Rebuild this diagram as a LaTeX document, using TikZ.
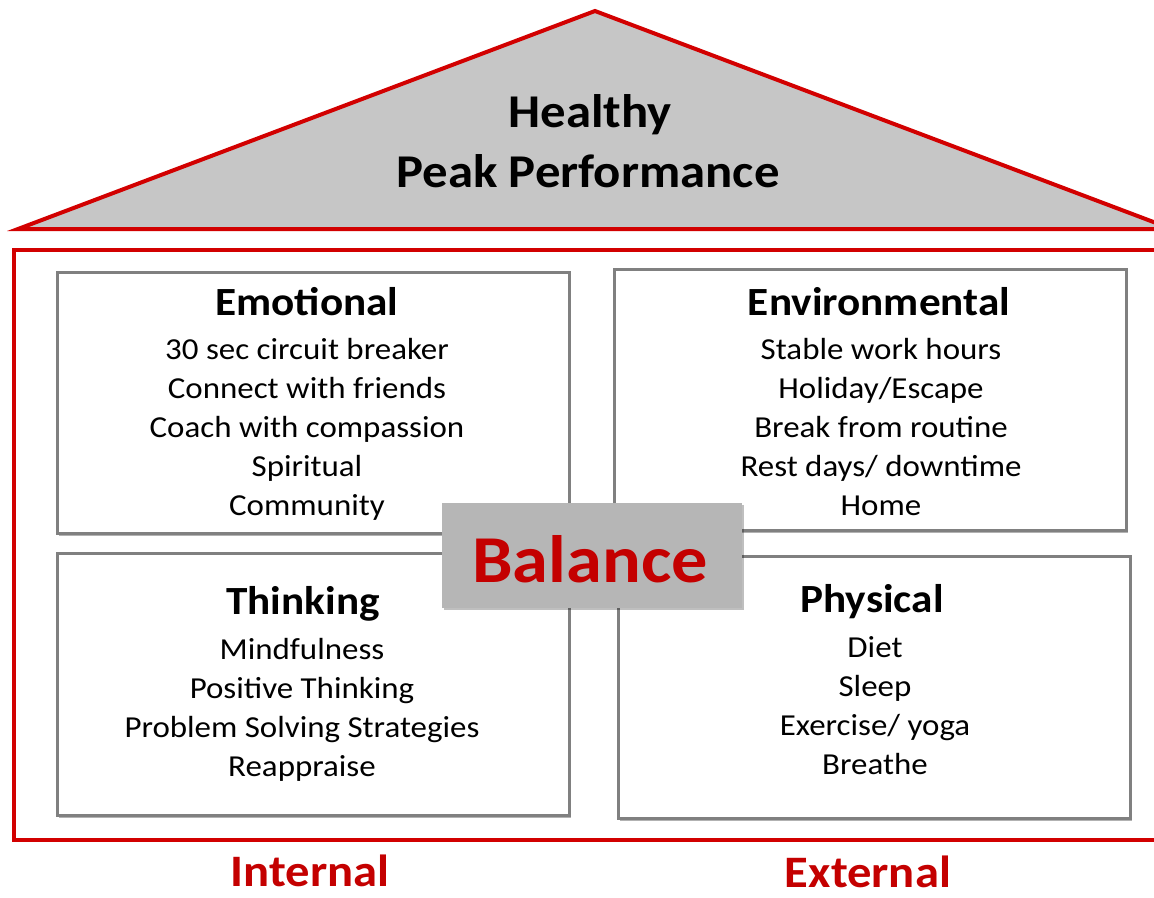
\documentclass[tikz,border=0pt]{standalone}
\usepackage{fontspec}
\setmainfont{Carlito}[FakeStretch=1.08]
\usetikzlibrary{shadows}
\definecolor{roofred}{RGB}{210,0,0}
\definecolor{labelred}{RGB}{196,0,0}
\definecolor{roofgray}{RGB}{198,198,198}
\definecolor{framegray}{RGB}{128,128,128}
\definecolor{balgray}{RGB}{182,182,182}
\tikzset{
  redline/.style={draw=roofred, line width=4pt},
  pillar/.style={draw=framegray, line width=3pt, fill=white, inner sep=0pt,
    drop shadow={shadow xshift=1.5pt, shadow yshift=-2.5pt, opacity=0.3, fill=black}},
  balbox/.style={fill=balgray, inner sep=0pt, minimum width=300pt, minimum height=105pt,
    drop shadow={shadow xshift=2pt, shadow yshift=-2pt, opacity=0.25, fill=black}},
  heading/.style={anchor=base, inner sep=0pt, font=\bfseries\fontsize{40}{48}\selectfont},
  item/.style={anchor=base, inner sep=0pt, font=\fontsize{30.5}{37}\selectfont},
  title/.style={anchor=base, inner sep=0pt, font=\bfseries\fontsize{47}{56}\selectfont},
  side/.style={anchor=base, inner sep=0pt, text depth=0pt, text=labelred, font=\bfseries\fontsize{45}{54}\selectfont},
  baltext/.style={anchor=base, inner sep=0pt, text=labelred, font=\bfseries\fontsize{67}{80}\selectfont},
}
\begin{document}
\begin{tikzpicture}[x=1pt,y=-1pt]
\useasboundingbox (0,0) rectangle (1154,897);
\fill[white] (0,0) rectangle (1154,897);

% roof and house frame, running past the right edge
\coordinate (apex) at (595,11);
\coordinate (eaveL) at (18,229);
\coordinate (eaveR) at (1172,229);
\coordinate (wallTR) at (1180,250);
\coordinate (wallTL) at (14,250);
\coordinate (wallBL) at (14,840);
\coordinate (wallBR) at (1180,840);
\begin{scope}
  \clip (0,0) rectangle (1154,897);
  \filldraw[fill=roofgray, redline, line join=miter] (apex) -- (eaveL) -- (eaveR) -- cycle;
  \draw[redline, line join=miter] (wallTR) -- (wallTL) -- (wallBL) -- (wallBR);
\end{scope}

\node[title] (t1) at (590,127) {Healthy};
\node[title] (t2) at (588,187) {Peak Performance};

% four pillars
\node[pillar, minimum width=512pt, minimum height=261pt] (emobox) at (313,402.5) {};
\node[pillar, minimum width=512pt, minimum height=261pt] (envbox) at (870,399.5) {};
\node[pillar, minimum width=512pt, minimum height=262pt] (thkbox) at (313,684) {};
\node[pillar, minimum width=512pt, minimum height=262pt] (phybox) at (874,687) {};

% Emotional
\node[heading] (emoh) at (307,315) {Emotional};
\foreach \t [count=\i] in {30 sec circuit breaker, Connect with friends, Coach with compassion, Spiritual, Community}
  \node[item] (emo\i) at (307,359+39*\i-39) {\t};

% Environmental
\node[heading] (envh) at (879,315) {Environmental};
\foreach \t [count=\i] in {Stable work hours, Holiday/Escape, Break from routine, Rest days/ downtime, Home}
  \node[item] (env\i) at (881,359+39*\i-39) {\t};

% Thinking
\node[heading] (thkh) at (303,614) {Thinking};
\foreach \t [count=\i] in {Mindfulness, Positive Thinking, Problem Solving Strategies, Reappraise}
  \node[item] (thk\i) at (302,659+39.3*\i-39.3) {\t};

% Physical
\node[heading] (phyh) at (872,612) {Physical};
\foreach \t [count=\i] in {Diet, Sleep, Exercise/ yoga, Breathe}
  \node[item] (phy\i) at (875,657+39*\i-39) {\t};

% centre keystone
\node[balbox] (bal) at (592,555.5) {};
\node[baltext] (balt) at (590,582) {Balance};

% bottom labels
\node[side] (internal) at (310,886) {Internal};
\node[side] (external) at (868,887) {External};
\end{tikzpicture}
\end{document}
